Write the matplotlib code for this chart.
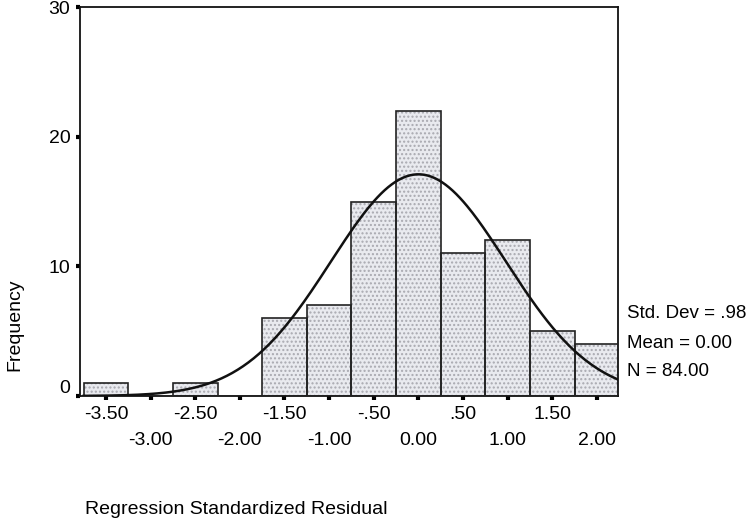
import numpy as np
import matplotlib
matplotlib.use("Agg")
import matplotlib.pyplot as plt
from matplotlib.transforms import ScaledTranslation

plt.rcParams["font.family"] = ["Liberation Sans", "DejaVu Sans"]

# histogram bins (centres) and counts
bin_centers = [-3.5, -3.0, -2.5, -2.0, -1.5, -1.0, -0.5, 0.0, 0.5, 1.0, 1.5, 2.0]
counts = [1, 0, 1, 0, 6, 7, 15, 22, 11, 12, 5, 4]
bin_width = 0.5

# summary statistics printed on the chart
std_dev = 0.98
mean = 0.0
n_obs = 84

row1_ticks = [-3.5, -2.5, -1.5, -0.5, 0.5, 1.5]
row1_labels = ["-3.50", "-2.50", "-1.50", "-.50", ".50", "1.50"]
row2_ticks = [-3.0, -2.0, -1.0, 0.0, 1.0, 2.0]
row2_labels = ["-3.00", "-2.00", "-1.00", "0.00", "1.00", "2.00"]
y_ticks = [0, 10, 20, 30]

fig = plt.figure(figsize=(7.52, 5.23), dpi=100)
ax = fig.add_axes([80 / 752, 1 - 396 / 523, 538 / 752, 389 / 523])

# stippled fill, then crisp outlines on top
ax.bar(bin_centers, counts, width=bin_width, color="#e9eaef",
       edgecolor="#a9a9b0", hatch="....", linewidth=0, zorder=2)
ax.bar(bin_centers, counts, width=bin_width, facecolor="none",
       edgecolor="#222222", linewidth=1.2, zorder=3)

# fitted normal curve scaled to the histogram
xs = np.linspace(-3.75, 2.25, 300)
pdf = np.exp(-0.5 * ((xs - mean) / std_dev) ** 2) / (std_dev * np.sqrt(2 * np.pi))
ax.plot(xs, n_obs * bin_width * pdf, color="#111111", linewidth=1.8, zorder=4)

ax.set_xlim(-3.79, 2.235)
ax.set_ylim(0, 30)

for sp in ax.spines.values():
    sp.set_linewidth(1.3)
    sp.set_color("#111111")

ax.set_xticks(row1_ticks)
ax.set_xticklabels(row1_labels)
ax.set_xticks(row2_ticks, minor=True)
ax.set_xticklabels(row2_labels, minor=True)
ax.tick_params(axis="x", which="major", length=3, width=3, pad=4, labelsize=14)
ax.tick_params(axis="x", which="minor", length=3, width=3, pad=23, labelsize=14)

ax.set_yticks(y_ticks)
ax.set_yticklabels([str(v) for v in y_ticks])
ax.tick_params(axis="y", length=3, width=3, pad=4, labelsize=14)
# SPSS lifts the "0" label a little above the baseline
zero_lbl = ax.get_yticklabels()[0]
zero_lbl.set_transform(zero_lbl.get_transform()
                       + ScaledTranslation(0, 7 / 72, fig.dpi_scale_trans))

ax.set_xlabel("Regression Standardized Residual", fontsize=14, ha="left", va="center")
ax.xaxis.set_label_coords(5 / 538, (396 - 510) / 389)
ax.set_ylabel("Frequency", fontsize=14, va="center")
ax.yaxis.set_label_coords(-65 / 538, (396 - 325) / 389)

stats = [("Std. Dev = .98", 313), ("Mean = 0.00", 343), ("N = 84.00", 372)]
for txt, ypx in stats:
    ax.text((627 - 80) / 538, (396 - ypx) / 389, txt, transform=ax.transAxes,
            fontsize=13.5, ha="left", va="center", clip_on=False)

fig.savefig("out.png", dpi=100)
